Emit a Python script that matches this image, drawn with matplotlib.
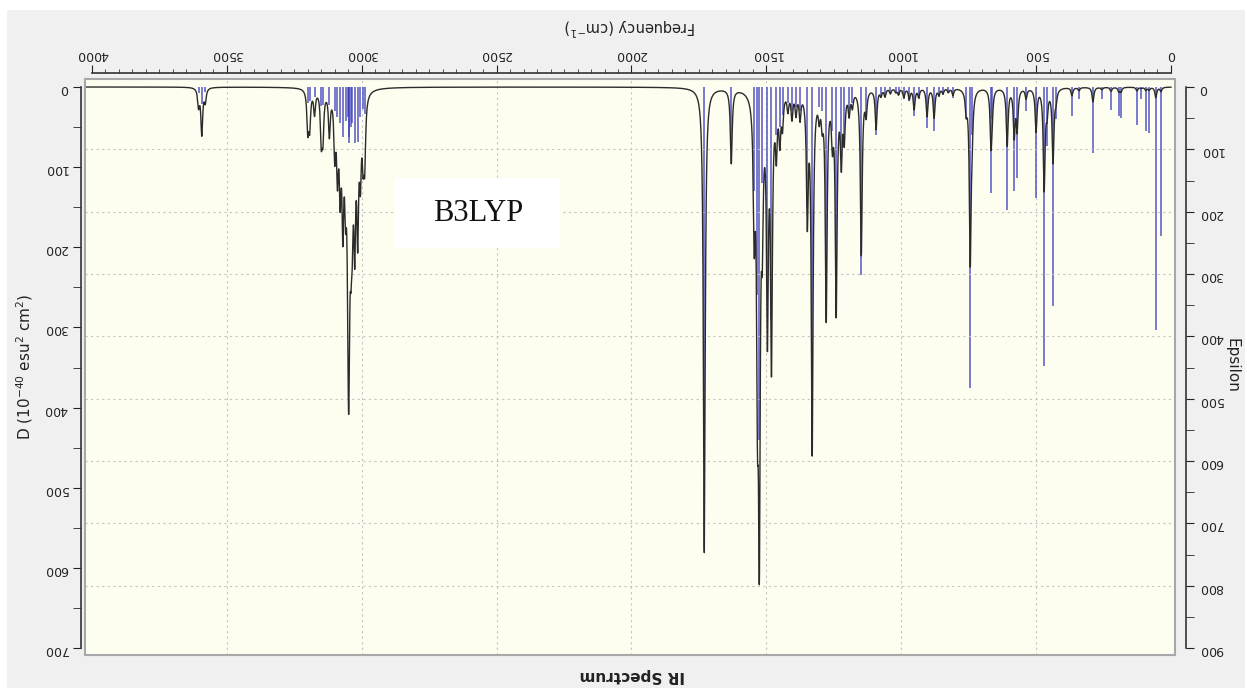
import numpy as np
import matplotlib.pyplot as plt
from matplotlib.patches import Rectangle
from matplotlib.ticker import MultipleLocator

# stick spectrum: frequency (cm-1) and dipole strength D
freq = [3605, 3593, 3580,
        3200, 3193, 3175, 3150, 3144, 3120, 3100, 3090, 3080, 3070, 3060,
        3051, 3049, 3047, 3040, 3035, 3026, 3015, 3005, 2995, 2989,
        1730, 1630, 1545, 1533, 1526, 1515, 1496, 1481, 1463, 1450, 1440,
        1420, 1405, 1390, 1375, 1348, 1330, 1304, 1293, 1278, 1255, 1241,
        1222, 1211, 1193, 1181, 1148, 1130, 1093, 1075, 1060, 1040, 1020,
        1010, 990, 970, 952, 935, 904, 878, 860, 845, 825, 808,
        759, 744, 737, 667, 663, 607, 581, 570, 537, 500, 470, 459, 437, 426,
        367, 341, 289, 256, 222, 193, 185, 126, 110, 93, 81, 56, 37]
dipole = [8, 21, 6,
          20, 18, 12, 24, 22, 22, 30, 38, 45, 62, 42,
          38, 70, 62, 50, 45, 70, 68, 38, 28, 34,
          438, 74, 130, 260, 440, 120, 250, 290, 60, 50, 35,
          20, 30, 25, 30, 150, 440, 25, 30, 288, 55, 288,
          89, 60, 30, 20, 235, 33, 60, 10, 12, 8, 6,
          10, 15, 18, 36, 15, 51, 55, 12, 10, 8, 14,
          40, 376, 60, 132, 40, 153, 130, 114, 30, 139, 348, 74, 273, 40,
          36, 15, 82, 15, 29, 36, 39, 47, 15, 55, 57, 303, 186]

x_ticks = [4000, 3500, 3000, 2500, 2000, 1500, 1000, 500, 0]
d_ticks = [0, 100, 200, 300, 400, 500, 600, 700]
eps_ticks = [0, 100, 200, 300, 400, 500, 600, 700, 800, 900]

hwhm = 4.0            # cm-1, lorentzian half width
eps_scale = 0.000984  # epsilon per (D * cm-1)

# broadened epsilon curve built from the sticks
nu = np.arange(0, 4100, 0.5)
f = np.array(freq, float)
d = np.array(dipole, float)
eps = (eps_scale * f * d / (1 + ((nu[:, None] - f) / hwhm) ** 2)).sum(axis=1)

fig = plt.figure(figsize=(12.47, 6.91), dpi=100, facecolor='white')
fig.patches.append(Rectangle((7 / 1247, 3 / 691), 1238 / 1247, 678 / 691,
                             transform=fig.transFigure, facecolor='#f0f0f0',
                             edgecolor='none', zorder=-10))

ax = fig.add_axes([85 / 1247, 1 - 655 / 691, 1090 / 1247, 576 / 691])
ax.set_facecolor('#fdfdf0')
ax2 = ax.twinx()

# sticks on D axis
ax.vlines(freq, 0, dipole, color='#3a3abf', lw=1.1, alpha=0.85, zorder=3)
# curve on epsilon axis
ax2.plot(nu, eps, color='#2b2b2b', lw=1.0, zorder=4)

ax.set_xlim(4026, -15)
ax.set_ylim(708.7, -10)
ax2.set_ylim(911, -12.8)

# grid: vertical every 500, horizontal follows epsilon axis
for xv in x_ticks[1:-1]:
    ax.axvline(xv, color='#c4c4c4', lw=0.8, ls=(0, (2, 3)), zorder=1)
for yv in eps_ticks[1:-1]:
    ax2.axhline(yv, color='#c4c4c4', lw=0.8, ls=(0, (2, 3)), zorder=1)

# top frequency axis
ax.xaxis.tick_top()
ax.set_xticks(x_ticks)
ax.xaxis.set_minor_locator(MultipleLocator(50))
ax.tick_params(axis='x', which='major', length=6, direction='out',
               labelsize=9, labelrotation=180, pad=3, colors='#222222')
ax.tick_params(axis='x', which='minor', length=3, direction='out', colors='#333333')
ax.spines['top'].set_position(('outward', 4))
ax.spines['top'].set_bounds(4000, 0)

# left D axis
ax.set_yticks(d_ticks)
ax.yaxis.set_minor_locator(MultipleLocator(50))
ax.tick_params(axis='y', which='both', length=6, direction='out',
               labelsize=9, labelrotation=180, colors='#222222')
ax.spines['left'].set_position(('outward', 3))
ax.spines['left'].set_bounds(0, 700)

# right epsilon axis
ax2.set_yticks(eps_ticks)
ax2.yaxis.set_minor_locator(MultipleLocator(50))
ax2.tick_params(axis='y', which='both', length=6, direction='out',
                labelsize=9, labelrotation=180, colors='#222222')
ax2.spines['right'].set_position(('outward', 8))
ax2.spines['right'].set_bounds(0, 900)

for s in ['bottom', 'right']:
    ax.spines[s].set_visible(False)
for s in ['bottom', 'top', 'left']:
    ax2.spines[s].set_visible(False)
for s in [ax.spines['top'], ax.spines['left'], ax2.spines['right']]:
    s.set_color('#333333')
    s.set_linewidth(1.2)

# gray frame of the plot area
ax2.add_patch(Rectangle((0, 0), 1, 1, transform=ax2.transAxes, fill=False,
                        edgecolor='#a8a8a8', lw=1.5, clip_on=False, zorder=5))

# labels (the picture is shown upside down)
fig.text(630 / 1247, 1 - 27 / 691, 'Frequency (cm$^{-1}$)', rotation=180,
         ha='center', va='center', fontsize=10.5, color='#222222')
fig.text(632 / 1247, 1 - 675 / 691, 'IR Spectrum', rotation=180,
         ha='center', va='center', fontsize=11, fontweight='bold', color='#222222')
fig.text(25 / 1247, 1 - 367 / 691, 'D (10$^{-40}$ esu$^{2}$ cm$^{2}$)', rotation=90,
         ha='center', va='center', fontsize=11, color='#222222')
fig.text(1232 / 1247, 1 - 365 / 691, 'Epsilon', rotation=270,
         ha='center', va='center', fontsize=11, color='#222222')

# method label box
ax2.add_patch(Rectangle((0.2844, 0.7066), 0.1514, 0.1215, transform=ax2.transAxes,
                        facecolor='white', edgecolor='none', zorder=6))
ax2.text(0.3606, 0.767, 'B3LYP', transform=ax2.transAxes, ha='center', va='center',
         fontsize=22, family='Liberation Serif', color='#111111', zorder=7)

fig.savefig('out.png', dpi=100, facecolor=fig.get_facecolor())
